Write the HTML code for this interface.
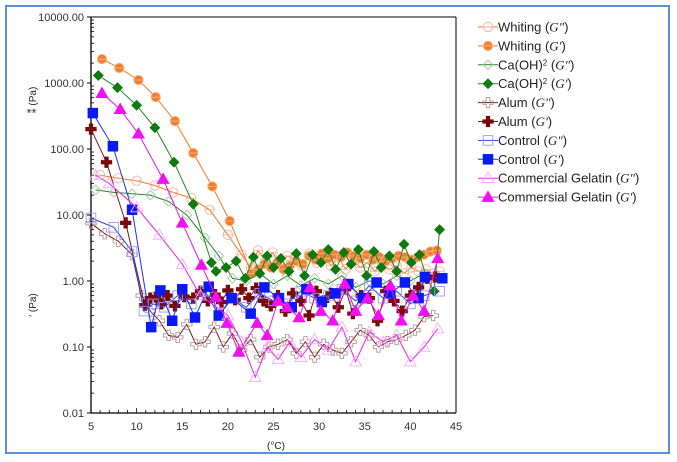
<!DOCTYPE html>
<html><head><meta charset="utf-8"><style>
body{margin:0;background:#fff;font-family:"Liberation Sans",sans-serif}
#frame{position:absolute;left:5px;top:5px;width:665px;height:449px;border:2px solid #5b8fd6;box-sizing:border-box}
</style></head><body>
<div id="frame"></div>
<svg id="c" width="677" height="462" style="position:absolute;left:0;top:0"></svg>
<script>
const xTicks=[5,10,15,20,25,30,35,40,45];
const yTicks=[0.01,0.1,1,10,100,1000,10000];
const yTickLabels=["0.01","0.10","1.00","10.00","100.00","1000.00","10000.00"];
const seriesNames=["Whiting (G\")","Whiting (G')","Ca(OH)2 (G\")","Ca(OH)2 (G')","Alum (G\")","Alum (G')","Control (G\")","Control (G')","Commercial Gelatin (G\")","Commersial Gelatin (G')"];
const whitingGppX=[6,8,10,12,14,16,18,20,21.5,22.5,23.3,24.1,24.9,25.7,26.5,27.3,28.1,28.9,29.7,30.5,31.3,32.1,32.9,33.7,34.5,35.3,36.1,36.9,37.7,38.5,39.3,40.1,40.9,41.7,42.5,43.2];
const whitingGppY=[40,36,33,28,22,18,12,5,2.5,1.6,2.9,2.0,2.7,1.8,2.4,2.2,1.7,2.6,1.9,2.4,1.7,2.3,1.5,2.1,1.6,1.9,1.4,1.8,1.5,1.7,1.3,1.6,1.4,1.5,1.3,1.4];
const whitingGpX=[6.2,8.1,10.2,12.1,14.2,16.2,18.3,20.2,22.6,23.3,24,24.7,25.4,26.1,26.8,27.5,28.2,28.9,29.6,30.3,31,31.7,32.4,33.1,33.8,34.5,35.2,35.9,36.6,37.3,38,38.7,39.4,40.1,40.8,41.5,42.2,42.9];
const whitingGpY=[2300,1690,1110,610,265,87,27,8.1,1.3,1.5,1.8,1.6,1.9,1.5,1.7,2.0,1.8,2.4,2.1,2.6,2.2,2.5,2.3,2.7,2.4,2.2,2.5,2.1,2.3,2.0,2.2,2.4,2.3,2.1,2.3,2.5,2.8,2.9];
const caGppX=[5.5,7.5,9.5,11.5,13.5,15.5,17.5,19,20.5,22,23.5,25,26.5,28,29.5,31,32.5,34,35.5,37,38.5,40,41.5,43];
const caGppY=[24,22,21,20,16,10,4.5,2.4,1.1,1.0,1.3,0.9,1.2,0.85,1.1,0.9,1.2,0.8,1.0,0.9,1.2,1.0,1.3,1.2];
const caGpX=[5.8,7.9,10,12,14.1,16.2,18.2,18.7,19.8,20.9,21.9,22.8,23.5,24.3,25,25.8,26.7,27.5,28.4,29.3,30.2,31,31.8,32.7,33.5,34.3,35.2,36,36.8,37.7,38.5,39.3,40.1,41,41.8,42.6,43.2];
const caGpY=[1300,850,460,210,63,14.6,1.9,1.4,1.6,2.0,1.1,2.3,1.3,2.4,1.6,2.2,1.4,2.6,1.2,2.5,1.9,3.0,1.5,2.7,1.8,3.0,1.2,2.8,1.6,2.4,1.4,3.6,1.9,2.5,1.1,0.7,6.0];
const alumGppX=[5,6.5,8,9.5,10.5,11.5,12.5,13.5,14.5,15.5,16.5,17.5,18.5,19.5,20.5,21.5,22.5,23.5,24.5,25.5,26.5,27.5,28.5,29.5,30.5,31.5,32.5,33.5,34.5,35.5,36.5,37.5,38.5,39.5,40.5,41.5,42.5];
const alumGppY=[7.5,5.2,4,2.5,0.6,0.35,0.25,0.15,0.14,0.22,0.11,0.12,0.2,0.1,0.16,0.09,0.13,0.07,0.1,0.11,0.13,0.08,0.12,0.07,0.11,0.09,0.08,0.12,0.18,0.15,0.1,0.12,0.13,0.15,0.18,0.29,0.3];
const alumGpX=[5,6.7,8.8,10.9,11.5,12.1,12.7,13.4,14.2,15.2,16.2,17,17.8,18.6,19.3,20,20.8,21.5,22.3,23.1,23.9,24.7,25.5,26.3,27.1,28,28.9,29.7,30.5,31.3,32.1,32.9,33.7,34.6,35.5,36.4,37.3,38.2,39.1,40,40.9,41.8,42.7];
const alumGpY=[200,63,7.6,0.43,0.55,0.57,0.45,0.6,0.42,0.58,0.55,0.7,0.5,0.62,0.48,0.72,0.52,0.75,0.55,0.78,0.5,0.42,0.6,0.35,0.65,0.5,0.3,0.7,0.5,0.65,0.4,0.75,0.32,0.6,0.55,0.25,0.7,0.5,0.35,0.6,0.8,1.1,1.15];
const ctrlGppX=[5,7.5,9.5,10.8,11.8,13,14.5,16,17.5,19,20.5,22,23.5,25,26.5,28,29.5,31,32.5,34,35.5,37,38.5,40,41.5,43.2];
const ctrlGppY=[9,6.5,2.8,0.35,0.45,0.4,0.6,0.45,0.7,0.3,0.55,0.4,0.65,0.5,0.45,0.7,0.55,0.6,0.75,0.5,0.85,0.55,0.7,0.45,0.6,0.7];
const ctrlGpX=[5.2,7.4,9.5,11.6,12.6,13.9,15,16.4,17.9,19,20.4,22.5,24,25.6,27,28.6,30.3,31.8,33.2,34.8,36.3,37.8,39.4,40.9,41.6,43.5];
const ctrlGpY=[350,110,12,0.2,0.72,0.25,0.75,0.28,0.82,0.3,0.55,0.32,0.8,0.55,0.4,0.75,0.48,0.65,0.9,0.55,0.95,0.65,0.95,0.55,1.15,1.1];
const gelGppX=[5.5,7,10,12.5,15,17,20,21.5,23,24.3,25.5,26.8,28,29.5,31,32.5,34,35.5,37,38.5,40,41.5,43];
const gelGppY=[40,30,13,5,1.8,0.6,0.3,0.12,0.035,0.1,0.065,0.12,0.07,0.13,0.09,0.2,0.06,0.17,0.12,0.15,0.06,0.1,0.19];
const gelGpX=[6.2,8.2,10.2,12.9,15,17.1,18.7,19.9,21.2,23.2,24.3,25.5,26.5,27.8,29,30.2,31.5,32.8,34,35.3,36.5,37.8,39,40.3,41.5,43];
const gelGpY=[700,400,170,35,7.6,1.75,0.57,0.23,0.084,0.23,0.15,0.5,0.4,0.28,0.8,0.35,0.25,0.9,0.35,0.55,0.3,0.85,0.25,0.6,0.35,2.2];

const L=91,R=456,T=17,B=413;
const xS=v=>L+(v-5)/(45-5)*(R-L);
const yS=v=>B-(Math.log10(v)+2)/6*(B-T);
const svg=document.getElementById('c');
const NS='http://www.w3.org/2000/svg';
function mk(tag,attrs,parent){const e=document.createElementNS(NS,tag);for(const k in attrs)e.setAttribute(k,attrs[k]);(parent||svg).appendChild(e);return e;}

const axes=mk('g',{});


mk('line',{x1:L,y1:T,x2:L,y2:B,stroke:'#000','stroke-width':1.3},axes);
mk('line',{x1:L,y1:B,x2:R,y2:B,stroke:'#000','stroke-width':1.3},axes);
mk('line',{x1:L,y1:T,x2:R,y2:T,stroke:'#000','stroke-width':1},axes);
mk('line',{x1:R,y1:T,x2:R,y2:B,stroke:'#000','stroke-width':1},axes);
yTicks.forEach((t,i)=>{
  const y=yS(t);
  mk('line',{x1:L-4,y1:y,x2:L,y2:y,stroke:'#000'},axes);
  const tx=mk('text',{x:L-7,y:y+4,'text-anchor':'end','font-size':11,fill:'#333'},axes);
  tx.textContent=yTickLabels[i];
  
  
  if(i<yTicks.length-1)for(let m=2;m<10;m++){const ym=yS(t*m);mk('line',{x1:L,y1:ym,x2:L+3,y2:ym,stroke:'#000','stroke-width':0.8},axes);}
});
for(let v=5;v<=45;v++){const x=xS(v);mk('line',{x1:x,y1:B,x2:x,y2:B-(v%5?3:5),stroke:'#000','stroke-width':0.8},axes);}
xTicks.forEach(t=>{
  const tx=mk('text',{x:xS(t),y:B+17,'text-anchor':'middle','font-size':11,fill:'#333'},axes);
  tx.textContent=t;
  
  
});
const xl=mk('text',{x:276,y:449,'text-anchor':'middle','font-size':10,fill:'#222'});
xl.textContent='(°C)';


[[36,100,'⁑ (Pa)'],[36,305,'′ (Pa)']].forEach((a,i)=>{
  const t=mk('text',{x:a[0],y:a[1],'text-anchor':'middle','font-size':10,fill:'#222',transform:`rotate(-90 ${a[0]} ${a[1]})`});
  t.textContent=a[2];
  
  
});

function marker(g,type,x,y,col,fill){
  const f=fill?col:'none',s=fill?'none':col,sw=0.9;
  if(type==='circle'){mk('circle',{cx:x,cy:y,r:4.7,fill:fill?col:'none',stroke:fill?'#f7b88a':col,'stroke-width':sw},g);mk('line',{x1:x-4.7,y1:y,x2:x+4.7,y2:y,stroke:fill?'#f7b88a':col,'stroke-width':0.8},g);}
  else if(type==='diamond')mk('polygon',{points:`${x},${y-4.8} ${x+4.8},${y} ${x},${y+4.8} ${x-4.8},${y}`,fill:f,stroke:fill?col:s,'stroke-width':sw},g);
  else if(type==='plus')mk('path',{d:`M${x-1.7},${y-5.2}h3.4v3.5h3.5v3.4h-3.5v3.5h-3.4v-3.5h-3.5v-3.4h3.5z`,fill:f,stroke:fill?col:s,'stroke-width':sw},g);
  else if(type==='square')mk('rect',{x:x-4.8,y:y-4.8,width:9.6,height:9.6,fill:f,stroke:fill?col:s,'stroke-width':sw},g);
  else if(type==='tri')mk('polygon',{points:`${x},${y-5.8} ${x+5.8},${y+4.3} ${x-5.8},${y+4.3}`,fill:f,stroke:fill?col:s,'stroke-width':sw},g);
}
const series=[
 [whitingGppX,whitingGppY,'circle','#f7b0a0','#f07a20',false],
 [whitingGpX,whitingGpY,'circle','#f08030','#f07a20',true],
 [caGppX,caGppY,'diamond','#a8c4a8','#1e8a1e',false],
 [caGpX,caGpY,'diamond','#0f7a0f','#1e8a1e',true],
 [alumGppX,alumGppY,'plus','#b09898','#7a1a1a',false],
 [alumGpX,alumGpY,'plus','#7a0a0a','#7a1a1a',true],
 [ctrlGppX,ctrlGppY,'square','#9a9af7','#3040f0',false],
 [ctrlGpX,ctrlGpY,'square','#0a1af5','#2030f0',true],
 [gelGppX,gelGppY,'tri','#f7aaf7','#f020f0',false],
 [gelGpX,gelGpY,'tri','#f010f0','#f010f0',true]
];
const slugs=['whiting-gpp','whiting-gp','caoh2-gpp','caoh2-gp','alum-gpp','alum-gp','control-gpp','control-gp','gelatin-gpp','gelatin-gp'];
series.forEach((s,i)=>{
  const g=mk('g',{});
  
  
  const pts=s[0].map((x,j)=>xS(x).toFixed(1)+','+yS(s[1][j]).toFixed(1)).join(' ');
  mk('polyline',{points:pts,fill:'none',stroke:s[4],'stroke-width':1},g);
  s[0].forEach((x,j)=>marker(g,s[2],xS(x),yS(s[1][j]),s[3],s[5]));
});
const lg=mk('g',{});


series.forEach((s,i)=>{
  const y=27+i*18.9,x=488;
  const e=mk('g',{},lg);
  
  
  mk('line',{x1:x-10,y1:y,x2:x+10,y2:y,stroke:s[4],'stroke-width':1},e);
  marker(e,s[2],x,y,s[3],s[5]);
  const t=mk('text',{x:498,y:y+4.5,'font-size':13,fill:'#222'},e);
  const base=seriesNames[i].replace(/ \(G.*$/,''),prime=seriesNames[i].includes('"')?'G"':"G'";
  t.innerHTML=base.replace('2','<tspan baseline-shift="super" font-size="8">2</tspan>')+' (<tspan font-family="Liberation Serif" font-style="italic">'+prime+'</tspan>)';
});
</script>
</body></html>
